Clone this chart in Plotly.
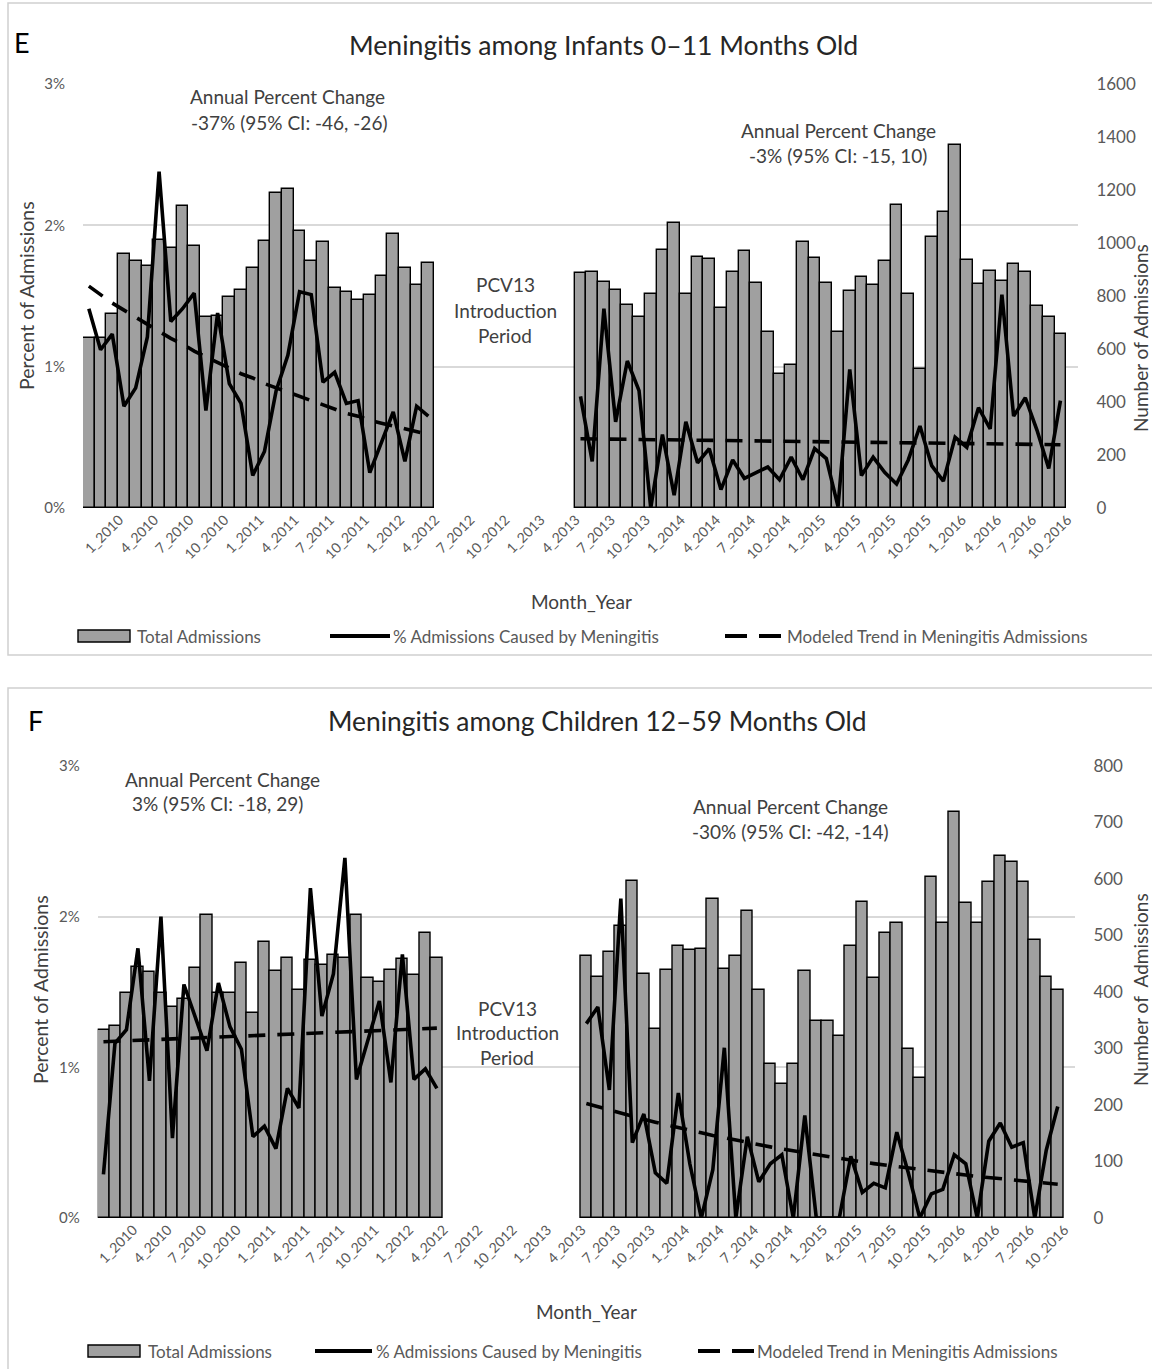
import plotly.graph_objects as go

W, H = 1152, 1369

# ---------------- data ----------------
tick_labels = ["1_2010", "4_2010", "7_2010", "10_2010", "1_2011", "4_2011", "7_2011",
               "10_2011", "1_2012", "4_2012", "7_2012", "10_2012", "1_2013", "4_2013",
               "7_2013", "10_2013", "1_2014", "4_2014", "7_2014", "10_2014", "1_2015",
               "4_2015", "7_2015", "10_2015", "1_2016", "4_2016", "7_2016", "10_2016"]
tick_months = [0, 3, 6, 9, 12, 15, 18, 21, 24, 27, 30, 33, 36, 39, 42, 45, 48, 51, 54, 57,
               60, 63, 66, 69, 72, 75, 78, 81]

# month index: 0 = Jan 2010 ... 83 = Dec 2016
pre_months = list(range(0, 30))    # Jan 2010 - Jun 2012
post_months = list(range(42, 84))  # Jul 2013 - Dec 2016

# Panel E: infants 0-11 months
e_adm_pre = [640, 640, 731, 960, 933, 912, 1013, 981, 1141, 987, 720, 725, 795, 821, 907,
             1008, 1189, 1205, 1045, 933, 1003, 832, 816, 784, 805, 875, 1035, 907, 843, 923]
e_adm_post = [888, 892, 854, 823, 766, 720, 808, 974, 1074, 808, 948, 938, 753, 892, 971,
              850, 665, 505, 540, 1003, 942, 850, 665, 820, 873, 842, 932, 1143, 808, 523,
              1024, 1118, 1370, 936, 845, 894, 858, 919, 892, 763, 720, 655]
e_pct_pre = [1.41, 1.12, 1.23, 0.72, 0.85, 1.21, 2.38, 1.32, 1.41, 1.52, 0.69, 1.38, 0.88,
             0.74, 0.23, 0.40, 0.83, 1.08, 1.53, 1.51, 0.89, 0.96, 0.74, 0.76, 0.25, 0.46,
             0.68, 0.33, 0.72, 0.65]
e_pct_post = [0.79, 0.33, 1.41, 0.61, 1.04, 0.83, 0.00, 0.52, 0.09, 0.61, 0.32, 0.42, 0.13,
              0.34, 0.21, 0.25, 0.29, 0.20, 0.36, 0.20, 0.42, 0.35, 0.01, 0.98, 0.23, 0.36,
              0.25, 0.17, 0.34, 0.58, 0.30, 0.19, 0.50, 0.43, 0.71, 0.56, 1.51, 0.65, 0.78,
              0.55, 0.28, 0.76]
e_trend_pre = [1.57, 1.51, 1.45, 1.40, 1.35, 1.30, 1.25, 1.20, 1.16, 1.11, 1.07, 1.03, 0.99,
               0.95, 0.92, 0.88, 0.85, 0.82, 0.79, 0.76, 0.73, 0.70, 0.67, 0.65, 0.62, 0.60,
               0.58, 0.56, 0.54, 0.52]
e_trend_post = [0.490, 0.489, 0.488, 0.487, 0.486, 0.485, 0.484, 0.483, 0.482, 0.480, 0.479,
                0.478, 0.477, 0.476, 0.475, 0.474, 0.473, 0.472, 0.471, 0.470, 0.469, 0.468,
                0.467, 0.466, 0.465, 0.464, 0.463, 0.462, 0.461, 0.460, 0.459, 0.458, 0.457,
                0.456, 0.455, 0.454, 0.453, 0.452, 0.451, 0.450, 0.449, 0.448]

# Panel F: children 12-59 months
f_adm_pre = [333, 339, 399, 445, 436, 399, 373, 387, 443, 536, 399, 399, 451, 363, 488, 437,
             461, 404, 457, 448, 466, 461, 537, 424, 417, 439, 458, 430, 504, 461]
f_adm_post = [463, 427, 470, 517, 597, 432, 334, 439, 481, 474, 476, 564, 441, 463, 543, 404,
              273, 237, 273, 438, 349, 349, 322, 481, 560, 424, 504, 522, 299, 248, 604, 523,
              718, 557, 523, 595, 640, 630, 595, 492, 427, 404]
f_pct_pre = [0.29, 1.16, 1.25, 1.79, 0.91, 2.00, 0.53, 1.55, 1.33, 1.11, 1.56, 1.27, 1.12,
             0.54, 0.61, 0.46, 0.86, 0.73, 2.19, 1.34, 1.62, 2.39, 0.92, 1.18, 1.44, 0.90,
             1.75, 0.92, 0.99, 0.86]
f_pct_post = [1.29, 1.40, 0.85, 2.12, 0.50, 0.69, 0.30, 0.23, 0.83, 0.36, 0.00, 0.32, 1.13,
              0.00, 0.54, 0.24, 0.36, 0.42, 0.00, 0.68, 0.00, 0.00, 0.00, 0.41, 0.17, 0.23,
              0.20, 0.57, 0.30, 0.00, 0.16, 0.19, 0.42, 0.36, 0.00, 0.51, 0.63, 0.47, 0.50,
              0.00, 0.45, 0.74]
f_trend_pre = [1.170, 1.173, 1.176, 1.179, 1.182, 1.186, 1.189, 1.192, 1.195, 1.198, 1.201,
               1.204, 1.207, 1.210, 1.213, 1.217, 1.220, 1.223, 1.226, 1.229, 1.232, 1.235,
               1.238, 1.241, 1.244, 1.248, 1.251, 1.254, 1.257, 1.260]
f_trend_post = [0.760, 0.738, 0.716, 0.695, 0.675, 0.655, 0.636, 0.617, 0.599, 0.582, 0.565,
                0.548, 0.532, 0.516, 0.501, 0.487, 0.472, 0.458, 0.445, 0.432, 0.419, 0.407,
                0.395, 0.383, 0.372, 0.361, 0.351, 0.340, 0.330, 0.321, 0.311, 0.302, 0.293,
                0.285, 0.276, 0.268, 0.260, 0.253, 0.245, 0.238, 0.231, 0.224]

# ---------------- styling ----------------
FONT = "Lato"
TXT = "#404040"
TICK = "#595959"
BAR_FILL = "#a0a0a0"
GRID = "#d9d9d9"
LABEL_SHIFT = 2.6  # rotated labels sit to the right of their month, as in the original


def px(x):
    return x / W


def py(y):
    return 1 - y / H


fig = go.Figure()


def add_panel(xa, ybar, ypct, adm_pre, adm_post, pct_pre, pct_post, tr_pre, tr_post):
    for xs, ys in ((pre_months, adm_pre), (post_months, adm_post)):
        fig.add_trace(go.Bar(x=xs, y=ys, xaxis=xa, yaxis=ybar, width=1.0,
                             marker=dict(color=BAR_FILL, line=dict(color="black", width=1.4)),
                             showlegend=False, hoverinfo="skip"))
    for xs, ys in ((pre_months, pct_pre), (post_months, pct_post)):
        fig.add_trace(go.Scatter(x=xs, y=ys, xaxis=xa, yaxis=ypct, mode="lines",
                                 line=dict(color="black", width=3.6),
                                 showlegend=False, hoverinfo="skip"))
    for xs, ys in ((pre_months, tr_pre), (post_months, tr_post)):
        fig.add_trace(go.Scatter(x=xs, y=ys, xaxis=xa, yaxis=ypct, mode="lines",
                                 line=dict(color="black", width=3.6, dash="17px,12px"),
                                 showlegend=False, hoverinfo="skip"))


add_panel("x", "y", "y2", e_adm_pre, e_adm_post, e_pct_pre, e_pct_post, e_trend_pre, e_trend_post)
add_panel("x2", "y3", "y4", f_adm_pre, f_adm_post, f_pct_pre, f_pct_post, f_trend_pre, f_trend_post)

xcommon = dict(range=[-0.5, 84.5], tickmode="array",
               tickvals=[m + LABEL_SHIFT for m in tick_months], ticktext=tick_labels,
               tickangle=-45, showgrid=False, zeroline=False, showline=False, ticks="",
               automargin=False,
               tickfont=dict(family=FONT, size=14, color=TICK), fixedrange=True)
bar_axis = dict(side="right", showgrid=False, zeroline=False, showline=False,
                ticks="outside", ticklen=14, tickcolor="rgba(0,0,0,0)", automargin=False,
                tickfont=dict(family=FONT, size=17, color=TICK))
pct_axis = dict(side="left", range=[0, 3], tickmode="array", tickvals=[0, 1, 2, 3],
                ticktext=["0%", "1%", "2%", "3%"], showgrid=True, gridcolor=GRID, gridwidth=1.6,
                zeroline=False, showline=False, ticks="outside", ticklen=14, automargin=False,
                tickcolor="rgba(0,0,0,0)", tickfont=dict(family=FONT, size=15, color=TICK))

fig.update_layout(
    width=W, height=H, margin=dict(l=0, r=0, t=0, b=0, autoexpand=False),
    paper_bgcolor="white", plot_bgcolor="white", bargap=0, barmode="overlay",
    showlegend=False,
    xaxis=dict(domain=[px(83), px(1078)], anchor="y", **xcommon),
    yaxis=dict(domain=[py(508), py(84)], anchor="x", range=[0, 1600], dtick=200, **bar_axis),
    yaxis2=dict(overlaying="y", anchor="x", **pct_axis),
    xaxis2=dict(domain=[px(97.7), px(1075)], anchor="y3", **xcommon),
    yaxis3=dict(domain=[py(1218), py(766)], anchor="x2", range=[0, 800], dtick=100, **bar_axis),
    yaxis4=dict(overlaying="y3", anchor="x2", **pct_axis),
)

ann = []


def text(x, y, s, size=19, color=TXT, angle=0, xanchor="center"):
    ann.append(dict(x=px(x), y=py(y), xref="paper", yref="paper", text=s, showarrow=False,
                    xanchor=xanchor, yanchor="middle", textangle=angle,
                    font=dict(family=FONT, size=size, color=color)))


# Panel E texts
text(12, 42, "E", size=27, color="black", xanchor="left")
text(603, 45, "Meningitis among Infants 0\u201311 Months Old", size=26.6, color="#262626")
text(287, 97, "Annual Percent Change", size=19)
text(289, 122, "-37% (95% CI: -46, -26)", size=19)
text(838, 130, "Annual Percent Change", size=19)
text(838, 155, "-3% (95% CI: -15, 10)", size=19)
text(505, 285, "PCV13", size=19)
text(505, 310, "Introduction", size=19)
text(505, 335, "Period", size=19)
text(26, 296, "Percent of Admissions", size=19.5, angle=-90)
text(1140, 338, "Number of Admissions", size=19, angle=-90)
text(581, 601, "Month_Year", size=19)

# Panel F texts
text(26, 720, "F", size=27, color="black", xanchor="left")
text(597, 721, "Meningitis among Children 12\u201359 Months Old", size=26.4, color="#262626")
text(222, 779, "Annual Percent Change", size=19)
text(217, 803, "3% (95% CI: -18, 29)", size=19)
text(790, 806, "Annual Percent Change", size=19)
text(790, 831, "-30% (95% CI: -42, -14)", size=19)
text(507, 1008, "PCV13", size=19)
text(507, 1032, "Introduction", size=19)
text(507, 1057, "Period", size=19)
text(40, 990, "Percent of Admissions", size=19.5, angle=-90)
text(1140, 990, "Number of  Admissions", size=19, angle=-90)
text(586, 1311, "Month_Year", size=19)

shapes = []
# panel frames
shapes.append(dict(type="rect", xref="paper", yref="paper", x0=px(8), x1=px(1160),
                   y0=py(655), y1=py(3), line=dict(color="#d0d0d0", width=1.5),
                   fillcolor="rgba(0,0,0,0)", layer="below"))
shapes.append(dict(type="rect", xref="paper", yref="paper", x0=px(8), x1=px(1160),
                   y0=py(1375), y1=py(688), line=dict(color="#d0d0d0", width=1.5),
                   fillcolor="rgba(0,0,0,0)", layer="below"))


def legend(y, box_x, box_text_x, line_x0, line_x1, line_text_x, dash_x0, dash_text_x):
    shapes.append(dict(type="rect", xref="paper", yref="paper", x0=px(box_x), x1=px(box_x + 52),
                       y0=py(y + 6), y1=py(y - 6), fillcolor=BAR_FILL,
                       line=dict(color="black", width=1.4)))
    text(box_text_x, y, "Total Admissions", size=17, color=TICK, xanchor="left")
    shapes.append(dict(type="line", xref="paper", yref="paper", x0=px(line_x0), x1=px(line_x1),
                       y0=py(y), y1=py(y), line=dict(color="black", width=4)))
    text(line_text_x, y, "% Admissions Caused by Meningitis", size=17, color=TICK, xanchor="left")
    shapes.append(dict(type="line", xref="paper", yref="paper", x0=px(dash_x0),
                       x1=px(dash_x0 + 56), y0=py(y), y1=py(y),
                       line=dict(color="black", width=4, dash="22px,12px")))
    text(dash_text_x, y, "Modeled Trend in Meningitis Admissions", size=17, color=TICK,
         xanchor="left")


legend(636, 78, 135, 330, 390, 391, 725, 785)
legend(1351, 88, 146, 315, 372, 374, 698, 755)

fig.update_layout(annotations=ann, shapes=shapes)
fig.write_html("out.html", config={"displayModeBar": False},
               post_script="document.body.style.margin='0px';")
